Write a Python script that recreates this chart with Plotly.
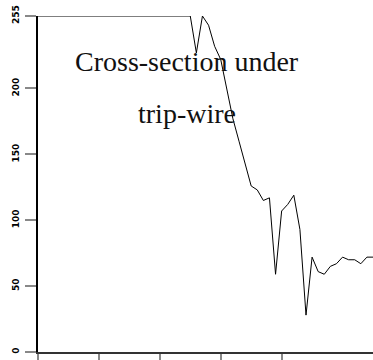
import plotly.graph_objects as go

# Intensity profile sampled across the trip-wire (8-bit grey levels)
sample_index = list(range(56))
intensity = [255] * 26 + [
    227, 255, 248, 232, 222, 200, 177, 160, 144, 126,
    123, 115, 117, 59, 107, 112, 119, 93, 28, 72,
    61, 59, 65, 67, 72, 70, 70, 67, 72, 72,
]

y_ticks = [0, 50, 100, 150, 200, 255]
x_ticks = [0, 10, 20, 30, 40]
title_lines = ["Cross-section under", "trip-wire"]

fig = go.Figure()
fig.add_trace(go.Scatter(
    x=sample_index, y=intensity, mode="lines",
    line=dict(color="black", width=1), cliponaxis=False,
    hoverinfo="skip", showlegend=False,
))

title_font = dict(family="Liberation Serif", size=28, color="#111")
for text, ypos in zip(title_lines, [220.5, 181.2]):
    fig.add_annotation(
        x=24.4, y=ypos, xref="x", yref="y", text=text, showarrow=False,
        xanchor="center", yanchor="middle", font=title_font,
    )

fig.update_xaxes(
    range=[0, 55], tickvals=x_ticks, showticklabels=False,
    ticks="outside", ticklen=6, tickwidth=2, tickcolor="#888",
    showline=True, linecolor="#333", linewidth=2,
    showgrid=False, zeroline=False,
)
fig.update_yaxes(
    range=[0, 255], tickvals=y_ticks, ticktext=[str(v) for v in y_ticks],
    tickangle=-90, ticks="outside", ticklen=11, tickwidth=2, tickcolor="#888",
    tickfont=dict(family="DejaVu Sans", size=9, color="black", weight="bold"),
    ticklabelstandoff=2,
    showline=True, linecolor="black", linewidth=2,
    showgrid=False, zeroline=False,
)
fig.update_layout(
    width=373, height=360,
    margin=dict(l=38, r=0, t=16, b=8),
    plot_bgcolor="white", paper_bgcolor="white",
)
fig.write_html("out.html")
